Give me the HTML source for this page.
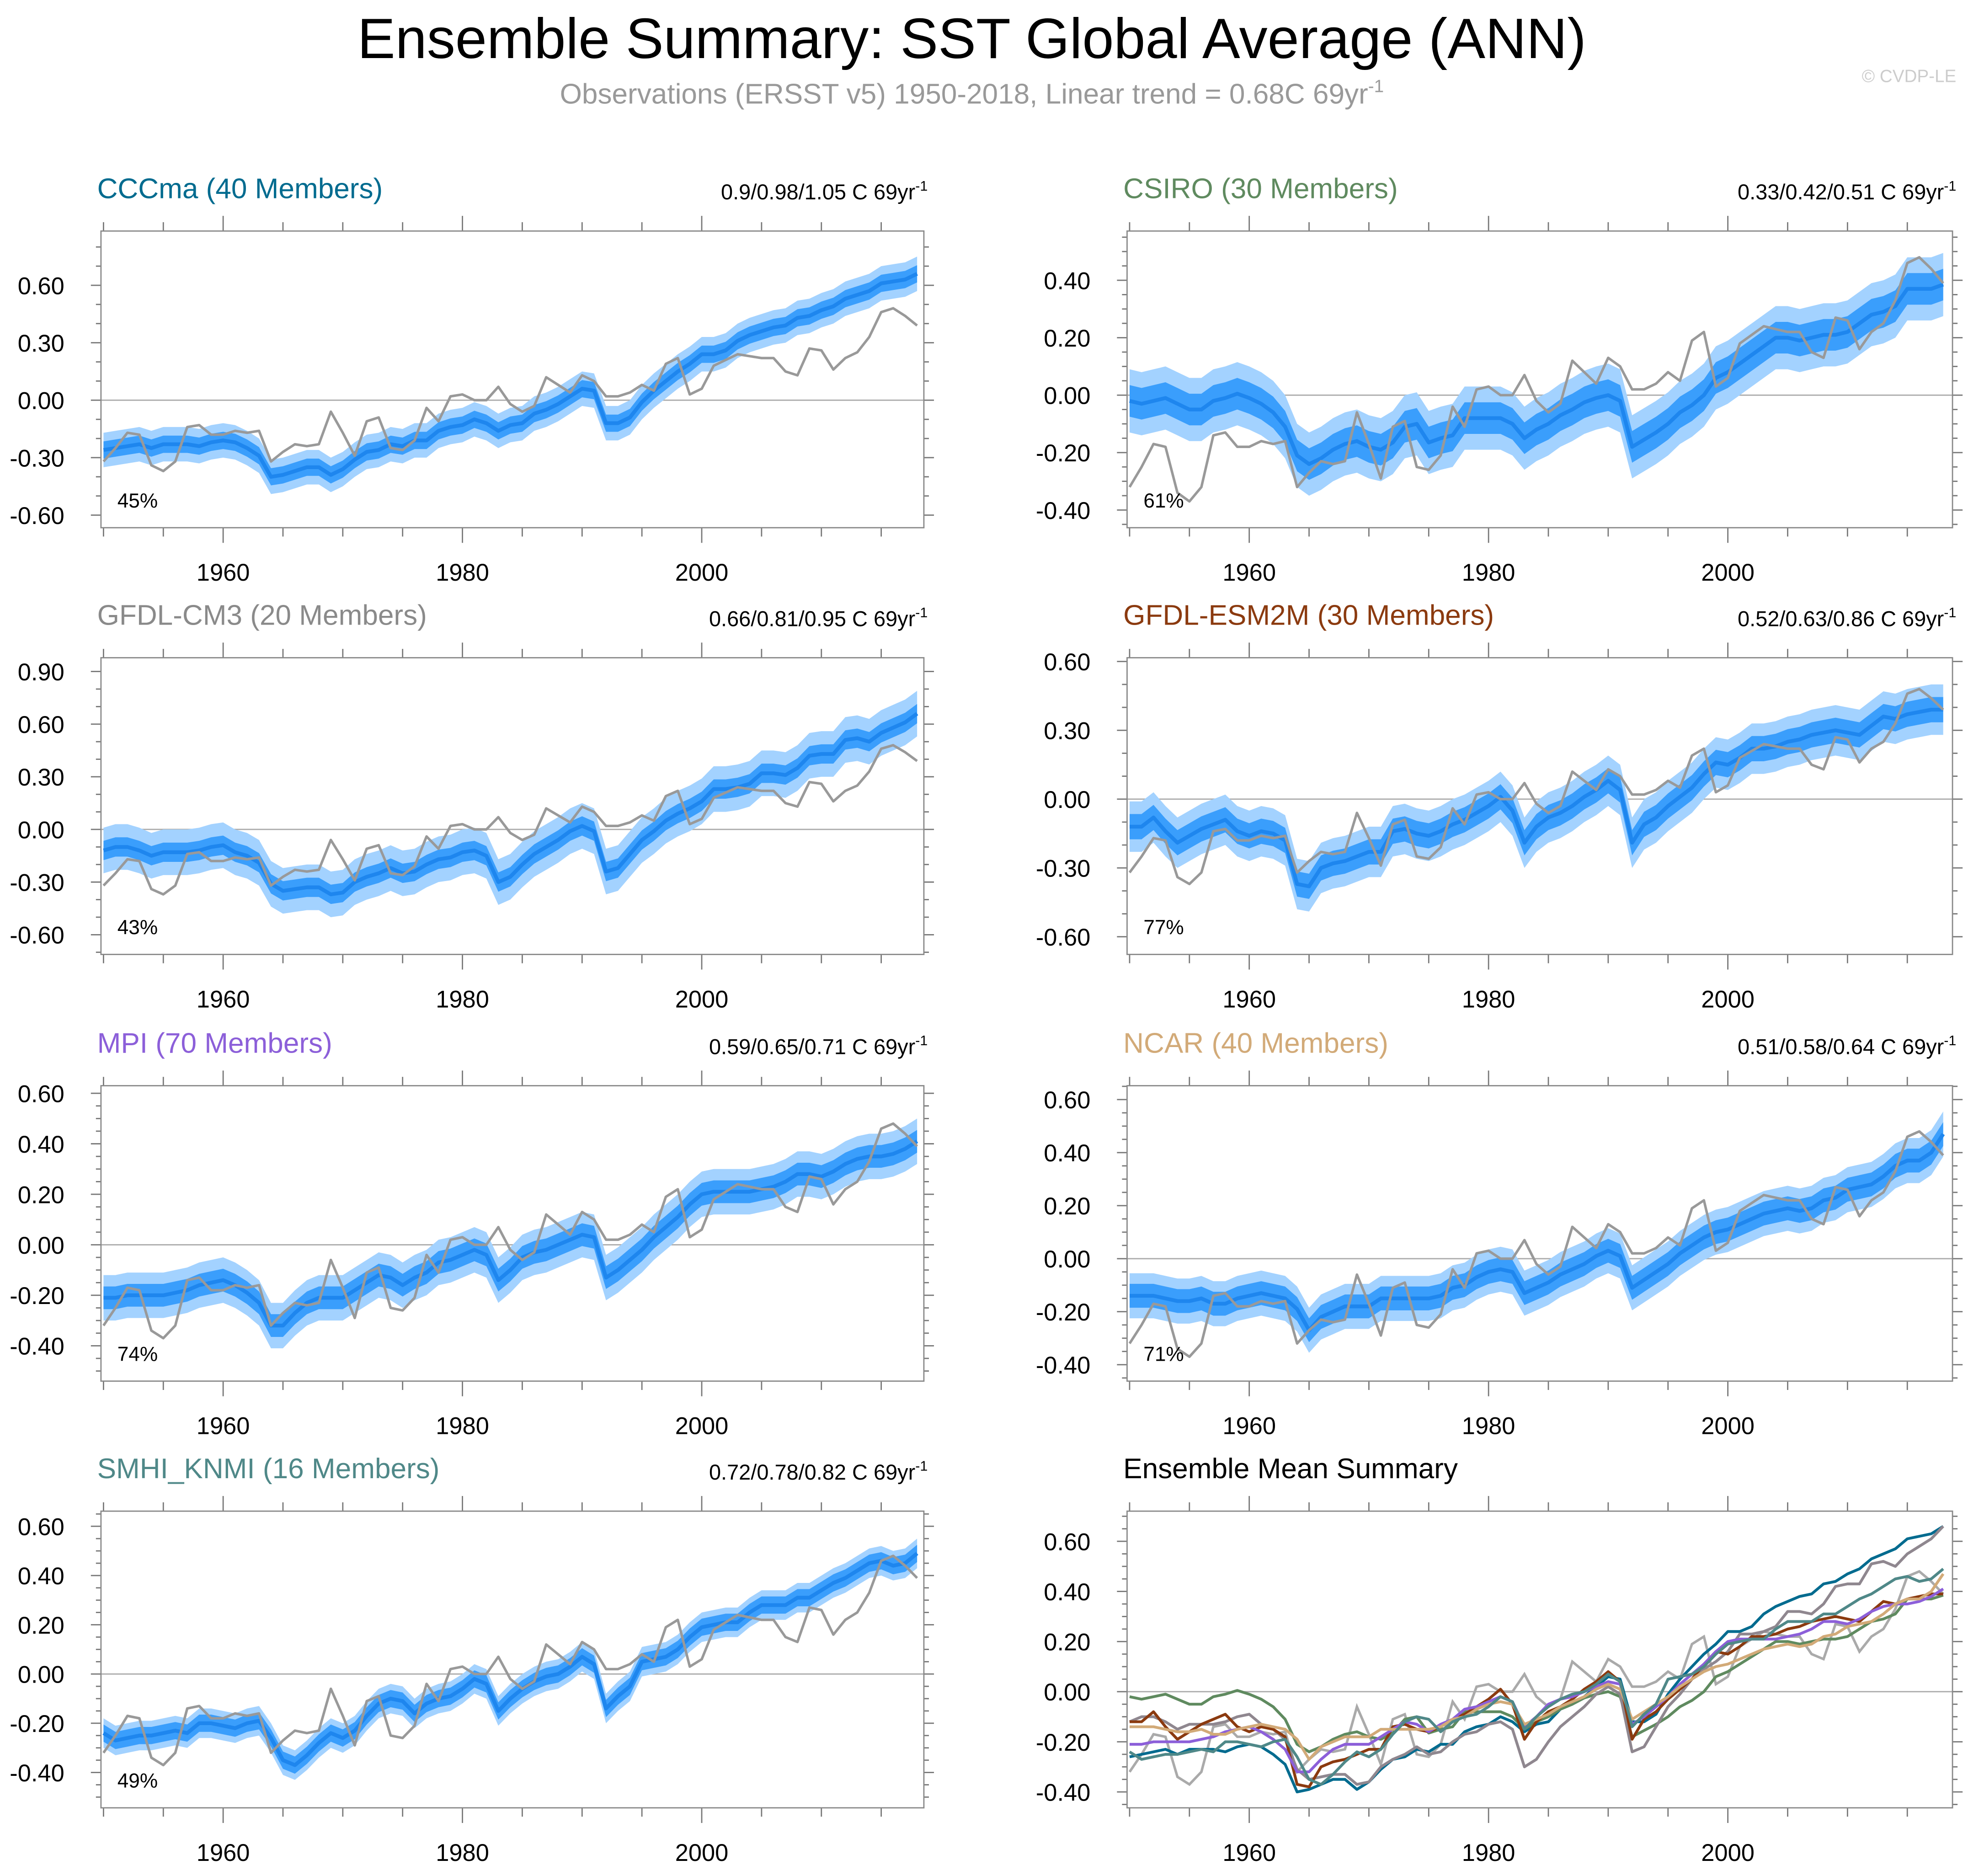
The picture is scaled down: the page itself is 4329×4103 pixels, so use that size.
<!DOCTYPE html>
<html><head><meta charset="utf-8"><style>
html,body{margin:0;padding:0;background:#fff}
svg{display:block}
text{font-family:"Liberation Sans",Arial,sans-serif}
</style></head><body>
<svg id="fig" xmlns="http://www.w3.org/2000/svg" width="4329" height="4103" viewBox="0 0 1568 1486" preserveAspectRatio="none">
<rect x="0" y="0" width="1568" height="1486" fill="#fff"/>
<text x="770" y="46" font-size="45" text-anchor="middle" fill="#000">Ensemble Summary: SST Global Average (ANN)</text>
<text x="770" y="82" font-size="22.5" text-anchor="middle" fill="#999">Observations (ERSST v5) 1950-2018, Linear trend = 0.68C 69yr<tspan dy="-9" font-size="14">-1</tspan></text>
<text x="1550" y="65" font-size="14" text-anchor="end" fill="#ccc">© CVDP-LE</text>
<g id="panels"></g>
</svg>
<script>
const years = []; for (let y = 1950; y <= 2018; y++) years.push(y);
const obs = [-0.32,-0.25,-0.17,-0.18,-0.34,-0.37,-0.32,-0.14,-0.13,-0.18,-0.18,-0.16,-0.17,-0.16,-0.32,-0.27,-0.23,-0.24,-0.23,-0.06,-0.17,-0.29,-0.11,-0.09,-0.25,-0.26,-0.21,-0.04,-0.11,0.02,0.03,0.00,0.00,0.07,-0.02,-0.06,-0.03,0.12,0.08,0.04,0.13,0.10,0.02,0.02,0.04,0.08,0.05,0.19,0.22,0.03,0.06,0.18,0.21,0.24,0.23,0.22,0.22,0.15,0.13,0.27,0.26,0.16,0.22,0.25,0.33,0.46,0.48,0.44,0.39];
const meanCCCma = [-0.26,-0.25,-0.24,-0.23,-0.25,-0.23,-0.23,-0.23,-0.24,-0.22,-0.21,-0.22,-0.25,-0.29,-0.40,-0.39,-0.37,-0.35,-0.35,-0.39,-0.36,-0.31,-0.27,-0.26,-0.23,-0.24,-0.21,-0.21,-0.16,-0.14,-0.13,-0.10,-0.12,-0.16,-0.13,-0.12,-0.07,-0.05,-0.02,0.02,0.06,0.05,-0.12,-0.12,-0.09,-0.01,0.05,0.10,0.15,0.19,0.24,0.24,0.26,0.31,0.34,0.36,0.38,0.39,0.43,0.44,0.47,0.49,0.53,0.55,0.57,0.61,0.62,0.63,0.66];
const meanCSIRO = [-0.02,-0.03,-0.02,-0.01,-0.03,-0.05,-0.05,-0.02,-0.01,0.005,-0.01,-0.03,-0.06,-0.11,-0.21,-0.24,-0.22,-0.19,-0.17,-0.16,-0.18,-0.19,-0.165,-0.11,-0.10,-0.165,-0.15,-0.14,-0.08,-0.08,-0.08,-0.08,-0.10,-0.15,-0.12,-0.10,-0.07,-0.05,-0.025,-0.01,0.0,-0.02,-0.18,-0.155,-0.13,-0.10,-0.06,-0.035,0.0,0.06,0.08,0.11,0.14,0.17,0.20,0.20,0.19,0.20,0.21,0.21,0.22,0.25,0.28,0.29,0.31,0.37,0.37,0.37,0.385];
const meanCM3 = [-0.12,-0.10,-0.10,-0.12,-0.15,-0.13,-0.13,-0.13,-0.12,-0.10,-0.09,-0.13,-0.15,-0.19,-0.31,-0.35,-0.34,-0.33,-0.33,-0.37,-0.36,-0.30,-0.27,-0.25,-0.22,-0.25,-0.24,-0.20,-0.17,-0.16,-0.13,-0.12,-0.15,-0.30,-0.27,-0.20,-0.14,-0.10,-0.06,-0.01,0.02,-0.01,-0.24,-0.22,-0.14,-0.06,-0.01,0.05,0.09,0.12,0.16,0.23,0.23,0.24,0.26,0.32,0.32,0.31,0.35,0.42,0.43,0.43,0.51,0.52,0.50,0.55,0.58,0.61,0.66];
const meanESM2M = [-0.12,-0.12,-0.08,-0.14,-0.19,-0.16,-0.13,-0.11,-0.09,-0.14,-0.16,-0.14,-0.15,-0.18,-0.37,-0.38,-0.30,-0.28,-0.27,-0.25,-0.23,-0.23,-0.14,-0.13,-0.15,-0.16,-0.14,-0.11,-0.09,-0.06,-0.03,0.01,-0.05,-0.19,-0.12,-0.08,-0.06,-0.03,0.01,0.04,0.08,0.04,-0.19,-0.11,-0.08,-0.03,0.01,0.05,0.11,0.16,0.15,0.18,0.22,0.22,0.23,0.25,0.26,0.28,0.29,0.30,0.29,0.28,0.32,0.36,0.35,0.37,0.38,0.39,0.39];
const meanMPI = [-0.21,-0.21,-0.20,-0.20,-0.20,-0.20,-0.19,-0.18,-0.16,-0.15,-0.14,-0.16,-0.19,-0.23,-0.32,-0.32,-0.27,-0.23,-0.21,-0.21,-0.21,-0.18,-0.15,-0.12,-0.13,-0.16,-0.13,-0.11,-0.07,-0.06,-0.04,-0.02,-0.04,-0.14,-0.10,-0.05,-0.03,-0.02,0.0,0.02,0.04,0.03,-0.13,-0.10,-0.06,-0.02,0.03,0.07,0.11,0.16,0.20,0.21,0.21,0.21,0.21,0.22,0.23,0.25,0.28,0.28,0.27,0.29,0.32,0.34,0.35,0.35,0.36,0.38,0.41];
const meanNCAR = [-0.14,-0.14,-0.14,-0.15,-0.16,-0.16,-0.15,-0.17,-0.17,-0.15,-0.14,-0.13,-0.14,-0.15,-0.19,-0.27,-0.22,-0.20,-0.18,-0.18,-0.18,-0.15,-0.15,-0.15,-0.15,-0.15,-0.14,-0.11,-0.10,-0.07,-0.05,-0.04,-0.05,-0.13,-0.11,-0.09,-0.06,-0.04,-0.02,0.01,0.03,0.01,-0.11,-0.08,-0.05,-0.02,0.02,0.05,0.08,0.10,0.11,0.13,0.15,0.17,0.18,0.19,0.18,0.19,0.22,0.23,0.26,0.27,0.28,0.31,0.35,0.37,0.37,0.40,0.47];
const meanSMHI = [-0.24,-0.27,-0.26,-0.25,-0.25,-0.24,-0.23,-0.24,-0.20,-0.20,-0.21,-0.22,-0.20,-0.19,-0.26,-0.35,-0.37,-0.33,-0.28,-0.24,-0.26,-0.23,-0.17,-0.12,-0.10,-0.11,-0.16,-0.12,-0.10,-0.09,-0.06,-0.02,-0.04,-0.15,-0.10,-0.06,-0.03,-0.01,0.0,0.03,0.07,0.04,-0.14,-0.09,-0.05,0.05,0.06,0.07,0.10,0.15,0.19,0.20,0.21,0.21,0.25,0.28,0.28,0.28,0.31,0.31,0.34,0.37,0.39,0.42,0.45,0.46,0.44,0.45,0.49];
const innerSpread = [0.045,0.055,0.055,0.055,0.045,0.045,0.035];
const outerSpread = [0.09,0.11,0.13,0.11,0.09,0.085,0.06];
const modelNames = ["CCCma (40 Members)","CSIRO (30 Members)","GFDL-CM3 (20 Members)","GFDL-ESM2M (30 Members)","MPI (70 Members)","NCAR (40 Members)","SMHI_KNMI (16 Members)"];
const trendText = ["0.9/0.98/1.05 C 69yr","0.33/0.42/0.51 C 69yr","0.66/0.81/0.95 C 69yr","0.52/0.63/0.86 C 69yr","0.59/0.65/0.71 C 69yr","0.51/0.58/0.64 C 69yr","0.72/0.78/0.82 C 69yr"];
const pctText = ["45%","61%","43%","77%","74%","71%","49%"];
const modelColors = ["#006b8f","#5f8a5f","#8a8a8a","#8b3a0f","#8c5fd9","#d2aa78","#4f8888"];
const summaryColors = ["#006b8f","#5f8a5f","#8f878f","#8b3a0f","#8c5fd9","#d2aa78","#4f8888"];
const means = [meanCCCma,meanCSIRO,meanCM3,meanESM2M,meanMPI,meanNCAR,meanSMHI];

const NS = "http://www.w3.org/2000/svg";
const root = document.getElementById("panels");
function mk(tag, attrs, parent) {
  const e = document.createElementNS(NS, tag);
  for (const k in attrs) e.setAttribute(k, attrs[k]);
  (parent || root).appendChild(e);
  return e;
}
const layout = [
  [80,732,183,418,317,151.7,0.3,0.1,-0.6,0.6],
  [893,1547,183,418,313,227.5,0.2,0.05,-0.4,0.4],
  [80,732,521,756,657,139,0.3,0.1,-0.6,0.9],
  [893,1547,521,756,633,181.7,0.3,0.1,-0.6,0.6],
  [80,732,860,1094,986,200,0.2,0.05,-0.4,0.6],
  [893,1547,860,1094,997,210,0.2,0.05,-0.4,0.6],
  [80,732,1197,1432,1326,195,0.2,0.05,-0.4,0.6],
  [893,1547,1197,1432,1340,198.5,0.2,0.05,-0.4,0.6]
];

function drawAxes(g, L) {
  const [x0,x1,t,b,yz,k,maj,mn,lmin,lmax] = L;
  const xs = yr => x0 + 2 + (yr - 1950) * 9.48;
  const ys = v => yz - v * k;
  const vmax = (yz - t) / k, vmin = -(b - yz) / k;
  const z = mk("line",{x1:x0,x2:x1,y1:ys(0),y2:ys(0),stroke:"#aaa","stroke-width":1},g);
  
  
  for (let i = Math.ceil(vmin/mn - 1e-6); i*mn <= vmax + 1e-9; i++) {
    const v = i*mn, y = ys(v);
    const isMaj = Math.abs(v/maj - Math.round(v/maj)) < 1e-6;
    const len = isMaj ? 8 : 4;
    mk("line",{x1:x0-len,x2:x0,y1:y,y2:y,stroke:"#777","stroke-width":1},g);
    mk("line",{x1:x1,x2:x1+len,y1:y,y2:y,stroke:"#777","stroke-width":1},g);
    if (isMaj && v >= lmin - 1e-6 && v <= lmax + 1e-6) {
      const tx = mk("text",{x:x0-29,y:y+7,"font-size":19,"text-anchor":"end",fill:"#000"},g);
      
      
      tx.textContent = v.toFixed(2);
    }
  }
  for (let yr = 1950; yr <= 2018; yr += 5) {
    const x = xs(yr);
    const isMaj = (yr - 1960) % 20 === 0;
    const len = isMaj ? 12 : 7;
    mk("line",{x1:x,x2:x,y1:t-len,y2:t,stroke:"#777","stroke-width":1},g);
    mk("line",{x1:x,x2:x,y1:b,y2:b+len,stroke:"#777","stroke-width":1},g);
    if (isMaj) {
      const tx = mk("text",{x:x,y:b+42,"font-size":19,"text-anchor":"middle",fill:"#000"},g);
      
      
      tx.textContent = yr;
    }
  }
  const bx = mk("rect",{x:x0,y:t,width:x1-x0,height:b-t,fill:"none",stroke:"#888","stroke-width":1},g);
  
  
  return {xs, ys};
}
function linePath(arr, xs, ys) {
  return arr.map((v,i)=>(i?"L":"M")+xs(years[i]).toFixed(2)+","+ys(v).toFixed(2)).join("");
}
function bandPath(arr, w, xs, ys) {
  let d = arr.map((v,i)=>(i?"L":"M")+xs(years[i]).toFixed(2)+","+ys(v+w).toFixed(2)).join("");
  for (let i = arr.length-1; i >= 0; i--) d += "L"+xs(years[i]).toFixed(2)+","+ys(arr[i]-w).toFixed(2);
  return d + "Z";
}

for (let m = 0; m < 7; m++) {
  const L = layout[m];
  const g = mk("g",{});
  
  
  const ax = drawAxes(g, L);
  const ob = mk("path",{d:bandPath(means[m], outerSpread[m], ax.xs, ax.ys),fill:"#a3d2ff",stroke:"none"},g);
  
  
  const ib = mk("path",{d:bandPath(means[m], innerSpread[m], ax.xs, ax.ys),fill:"#3a9efc",stroke:"none"},g);
  
  
  const ml = mk("path",{d:linePath(means[m], ax.xs, ax.ys),fill:"none",stroke:"#1e86ee","stroke-width":3,"stroke-linejoin":"round"},g);
  
  
  const ol = mk("path",{d:linePath(obs, ax.xs, ax.ys),fill:"none",stroke:"#999","stroke-width":2,"stroke-linejoin":"round"},g);
  
  
  const tt = mk("text",{x:L[0]-3,y:L[2]-26,"font-size":22.5,fill:modelColors[m]},g);
  
  
  tt.textContent = modelNames[m];
  const tr = mk("text",{x:L[1]+3,y:L[2]-25,"font-size":17,"text-anchor":"end",fill:"#000"},g);
  
  
  tr.textContent = trendText[m];
  const sp = mk("tspan",{dy:-7,"font-size":11},tr); sp.textContent = "-1";
  const pc = mk("text",{x:L[0]+13,y:L[3]-16,"font-size":16,fill:"#000"},g);
  
  
  pc.textContent = pctText[m];
}
{
  const L = layout[7];
  const g = mk("g",{});
  
  
  const ax = drawAxes(g, L);
  const ol = mk("path",{d:linePath(obs, ax.xs, ax.ys),fill:"none",stroke:"#aaa","stroke-width":2},g);
  
  
  for (let m = 0; m < 7; m++) {
    const p = mk("path",{d:linePath(means[m], ax.xs, ax.ys),fill:"none",stroke:summaryColors[m],"stroke-width":2.2,"stroke-linejoin":"round"},g);
    
    
  }
  const tt = mk("text",{x:L[0]-3,y:L[2]-26,"font-size":22.5,fill:"#000"},g);
  
  
  tt.textContent = "Ensemble Mean Summary";
}
</script>
</body></html>
